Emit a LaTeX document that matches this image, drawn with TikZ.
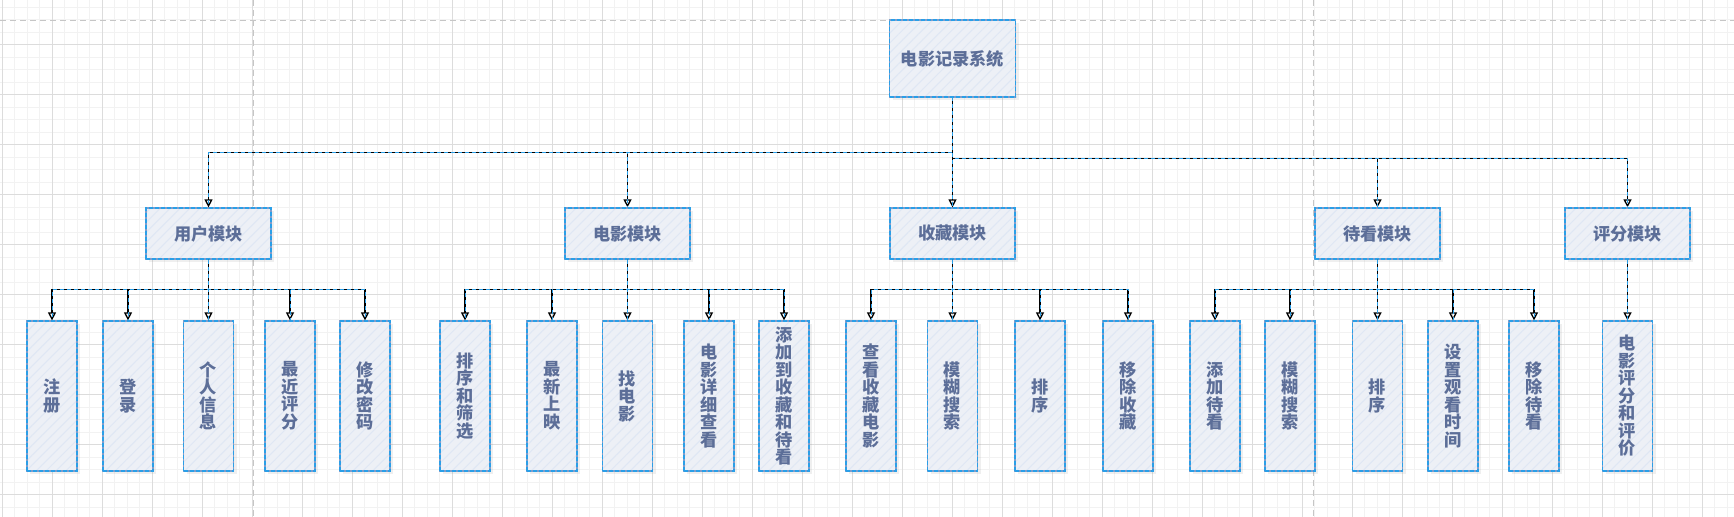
\documentclass[tikz,border=0pt]{standalone}
\usepackage{fontspec}
\newfontfamily\cjk{Noto Sans CJK SC}
\usetikzlibrary{arrows.meta,patterns.meta,shadows}
\definecolor{boxfill}{HTML}{EDF0F6}
\definecolor{hatch}{HTML}{DFE7F4}
\definecolor{boxline}{HTML}{7F9CCB}
\definecolor{dashblue}{HTML}{2A9FE8}
\definecolor{txt}{HTML}{5C6E98}
\definecolor{gridminor}{HTML}{F2F2F2}
\definecolor{gridmajor}{HTML}{DCDCDC}
\definecolor{pagegray}{HTML}{C6C6C6}

\begin{document}
\begin{tikzpicture}[x=0.5pt, y=-0.5pt,
    box/.style={drop shadow={opacity=0.12, shadow xshift=1.5pt, shadow yshift=-1.5pt},
        draw=boxline, line width=0.6pt, preaction={fill=boxfill},
        pattern={Lines[angle=45, distance=3.5pt, line width=0.5pt]}, pattern color=hatch,
        postaction={draw=dashblue, line width=0.6pt, dash pattern=on 2pt off 1pt},
        text=txt, font=\cjk\bfseries\fontsize{8.6pt}{8.75pt}\selectfont,
        inner sep=0pt, align=center},
    head/.style={box, minimum width=62.5pt, minimum height=25.5pt},
    leaf/.style={box, minimum width=25pt, minimum height=75pt},
    link/.style={draw=black, line width=0.65pt, -{Triangle[open, length=4pt, width=4pt]},
        postaction={draw=dashblue, line width=0.5pt, dash pattern=on 2pt off 1.5pt, -}}]
    \useasboundingbox[fill=white] (0,0) rectangle (1734,517);
    \foreach \x in {0,...,138} \draw[gridminor, line width=0.5pt] ({2+12.5*\x},0) -- ({2+12.5*\x},517);
    \foreach \y in {0,...,41} \draw[gridminor, line width=0.5pt] (0,{7.5+12.5*\y}) -- (1734,{7.5+12.5*\y});
    \foreach \x in {2,52,...,1702} \draw[gridmajor, line width=0.5pt] (\x,0) -- (\x,517);
    \foreach \y in {45,95,...,495} \draw[gridmajor, line width=0.5pt] (0,\y) -- (1734,\y);
    \draw[pagegray, line width=0.5pt, dash pattern=on 3pt off 2pt] (253,0) -- (253,517);
    \draw[pagegray, line width=0.5pt, dash pattern=on 3pt off 2pt] (1313,0) -- (1313,517);
    \draw[pagegray, line width=0.5pt, dash pattern=on 3pt off 2pt] (0,20.7) -- (1734,20.7);

    \node[box, minimum width=63pt, minimum height=38.5pt] (sys) at (952.5,58.5) {电影记录系统};

    \node[head] (user) at (208.5,233.5) {用户模块};
    \node[head] (movie) at (627.5,233.5) {电影模块};
    \node[head] (fav) at (952.5,233.5) {收藏模块};
    \node[head] (watch) at (1377.5,233.5) {待看模块};
    \node[head] (rate) at (1627.5,233.5) {评分模块};

    \node[leaf] (u1) at (52,396) {注\\册};
    \node[leaf] (u2) at (128,396) {登\\录};
    \node[leaf] (u3) at (208.5,396) {个\\人\\信\\息};
    \node[leaf] (u4) at (290,396) {最\\近\\评\\分};
    \node[leaf] (u5) at (365,396) {修\\改\\密\\码};

    \node[leaf] (m1) at (465,396) {排\\序\\和\\筛\\选};
    \node[leaf] (m2) at (552,396) {最\\新\\上\\映};
    \node[leaf] (m3) at (627.5,396) {找\\电\\影};
    \node[leaf] (m4) at (709,396) {电\\影\\详\\细\\查\\看};
    \node[leaf] (m5) at (784,396) {添\\加\\到\\收\\藏\\和\\待\\看};

    \node[leaf] (f1) at (871,396) {查\\看\\收\\藏\\电\\影};
    \node[leaf] (f2) at (952.5,396) {模\\糊\\搜\\索};
    \node[leaf] (f3) at (1040,396) {排\\序};
    \node[leaf] (f4) at (1128,396) {移\\除\\收\\藏};

    \node[leaf] (w1) at (1215,396) {添\\加\\待\\看};
    \node[leaf] (w2) at (1290,396) {模\\糊\\搜\\索};
    \node[leaf] (w3) at (1377.5,396) {排\\序};
    \node[leaf] (w4) at (1453,396) {设\\置\\观\\看\\时\\间};
    \node[leaf] (w5) at (1534,396) {移\\除\\待\\看};

    \node[leaf] (r1) at (1627.5,396) {电\\影\\评\\分\\和\\评\\价};

    \draw[link] (sys.south) -- ++(0,55) -| (user.north);
    \draw[link] (sys.south) -- ++(0,55) -| (movie.north);
    \draw[link] (sys.south) -- (fav.north);
    \draw[link] (sys.south) -- ++(0,61) -| (watch.north);
    \draw[link] (sys.south) -- ++(0,61) -| (rate.north);

    \foreach \c in {u1,u2,u3,u4,u5} \draw[link] (user.south) -- ++(0,30) -| (\c.north);
    \foreach \c in {m1,m2,m3,m4,m5} \draw[link] (movie.south) -- ++(0,30) -| (\c.north);
    \foreach \c in {f1,f2,f3,f4} \draw[link] (fav.south) -- ++(0,30) -| (\c.north);
    \foreach \c in {w1,w2,w3,w4,w5} \draw[link] (watch.south) -- ++(0,30) -| (\c.north);
    \draw[link] (rate.south) -- (r1.north);
\end{tikzpicture}
\end{document}
